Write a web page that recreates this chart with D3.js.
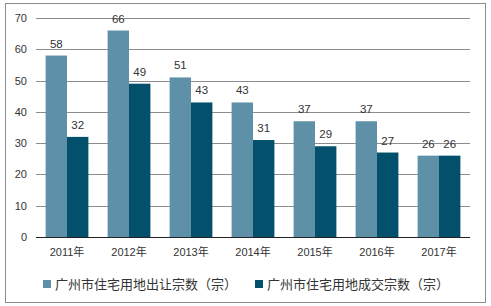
<!doctype html>
<head>
    <meta charset="utf-8">
    <title>广州市住宅用地出让与成交宗数</title>
    <script src="https://cdn.jsdelivr.net/npm/d3@7"></script>
    <style>
        body {
            margin: 0;
            background: #fff;
        }

        text {
            font-family: "Liberation Sans", "Noto Sans CJK SC", sans-serif;
            fill: #333;
        }

        .grid line {
            stroke: #8c8c8c;
            shape-rendering: crispEdges;
        }
    </style>
</head>

<body>
    <script>
        "use strict";

        const years = ["2011年", "2012年", "2013年", "2014年", "2015年", "2016年", "2017年"];
        const supplied = [58, 66, 51, 43, 37, 37, 26];
        const traded = [32, 49, 43, 31, 29, 27, 26];
        const seriesNames = ["广州市住宅用地出让宗数（宗）", "广州市住宅用地成交宗数（宗）"];
        const colors = ["#5e91a8", "#02506b"];
        const yTicks = [0, 10, 20, 30, 40, 50, 60, 70];

        const width = 491;
        const height = 306;
        const margin = ({
            top: 18,
            right: 21,
            bottom: 69,
            left: 36,
        });

        const data = years.map((year, i) => ({
            year: year,
            values: [supplied[i], traded[i]],
        }));

        const x = d3.scaleBand()
            .domain(years)
            .range([margin.left, width - margin.right])
            .paddingInner(0.31)
            .paddingOuter(0.155);

        const x1 = d3.scaleBand()
            .domain([0, 1])
            .range([0, x.bandwidth()]);

        const y = d3.scaleLinear()
            .domain([0, 70])
            .range([height - margin.bottom, margin.top]);

        const svg = d3.select("body").append("svg")
            .attr("width", width)
            .attr("height", height)
            .attr("viewBox", [0, 0, width, height]);

        // outer frame
        svg.append("rect")
            .attr("x", 5.5)
            .attr("y", 3.5)
            .attr("width", 480)
            .attr("height", 299)
            .attr("fill", "none")
            .attr("stroke", "#8c8c8c");

        // gridlines and y labels
        svg.append("g")
            .attr("class", "grid")
            .attr("transform", `translate(${margin.left},0)`)
            .call(d3.axisLeft(y).tickValues(yTicks)
                .tickSize(-(width - margin.left - margin.right)).tickPadding(9))
            .call(g => g.select(".domain").remove())
            .call(g => g.selectAll(".tick text")
                .attr("font-size", 11)
                .attr("fill", "#333"));

        const groups = svg.append("g")
            .selectAll("g")
            .data(data)
            .join("g")
            .attr("transform", d => `translate(${x(d.year)},0)`);

        groups.selectAll("rect")
            .data(d => d.values)
            .join("rect")
            .attr("x", (d, i) => x1(i))
            .attr("y", d => y(d))
            .attr("width", x1.bandwidth())
            .attr("height", d => y(0) - y(d))
            .attr("fill", (d, i) => colors[i]);

        groups.selectAll("text")
            .data(d => d.values)
            .join("text")
            .attr("x", (d, i) => x1(i) + x1.bandwidth() / 2)
            .attr("y", d => y(d) - 8)
            .attr("text-anchor", "middle")
            .attr("font-size", 11.5)
            .text(d => d);

        // x axis
        svg.append("g")
            .attr("transform", `translate(0,${y(0)})`)
            .call(d3.axisBottom(x).tickSize(0).tickPadding(11))
            .call(g => g.select(".domain")
                .attr("stroke", "#222")
                .attr("d", `M${margin.left},0.5H${width - margin.right}`))
            .call(g => g.selectAll(".tick text")
                .attr("font-size", 11)
                .attr("fill", "#333"));

        // legend
        const legendX = [43, 255];
        const legend = svg.append("g")
            .selectAll("g")
            .data(seriesNames)
            .join("g")
            .attr("transform", (d, i) => `translate(${legendX[i]},284)`);

        legend.append("rect")
            .attr("y", -4)
            .attr("width", 8)
            .attr("height", 8)
            .attr("fill", (d, i) => colors[i]);

        legend.append("text")
            .attr("x", 12)
            .attr("dy", "0.35em")
            .attr("font-size", 13)
            .text(d => d);
    </script>
</body>

</html>
